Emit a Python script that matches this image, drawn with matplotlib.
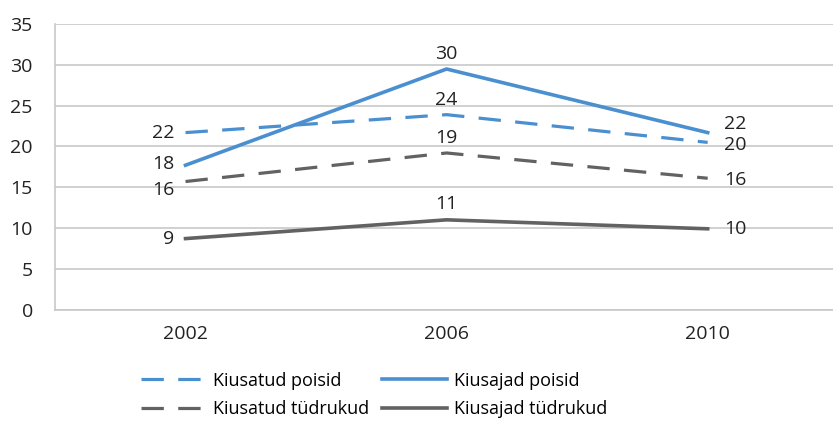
import matplotlib.pyplot as plt

# andmed
aastad = ['2002', '2006', '2010']
kiusatud_poisid = [21.7, 23.9, 20.5]
kiusajad_poisid = [17.7, 29.5, 21.7]
kiusatud_tudrukud = [15.7, 19.2, 16.1]
kiusajad_tudrukud = [8.7, 11.0, 9.9]

sinine = '#4a8fd0'
hall = '#626262'

plt.rcParams['font.family'] = ['Open Sans', 'DejaVu Sans']

fig = plt.figure(figsize=(8.33, 4.24), dpi=100)
ax = fig.add_axes([0.066, 0.27, 0.934, 0.673])

x = range(len(aastad))
ax.plot(x, kiusatud_poisid, color=sinine, lw=2.3, dashes=(7, 4.5), label='Kiusatud poisid')
ax.plot(x, kiusatud_tudrukud, color=hall, lw=2.3, dashes=(7, 4.5), label='Kiusatud tüdrukud')
ax.plot(x, kiusajad_poisid, color=sinine, lw=2.6, label='Kiusajad poisid')
ax.plot(x, kiusajad_tudrukud, color=hall, lw=2.6, label='Kiusajad tüdrukud')

# väärtuste sildid: vasakul, üleval, paremal
nihked = {
    0: [(-8, 0, 'right', 'center'), (0, 4, 'center', 'bottom'), (12, -2, 'left', 'center')],
    1: [(-8, -6, 'right', 'center'), (0, 4, 'center', 'bottom'), (12, -1, 'left', 'center')],
    2: [(-8, 1, 'right', 'center'), (0, 4, 'center', 'bottom'), (12, 6, 'left', 'center')],
    3: [(-8, 0, 'right', 'center'), (0, 5, 'center', 'bottom'), (12, 0, 'left', 'center')],
}
seeriad = [kiusatud_poisid, kiusatud_tudrukud, kiusajad_poisid, kiusajad_tudrukud]
for i, s in enumerate(seeriad):
    for j, v in enumerate(s):
        dx, dy, ha, va = nihked[i][j]
        ax.annotate(str(round(v)), (j, v), xytext=(dx, dy), textcoords='offset points',
                    ha=ha, va=va, fontsize=14, color='#222222')

ax.set_xlim(-0.5, 2.48)
ax.set_ylim(0, 35)
ax.set_yticks(range(0, 36, 5))
ax.set_xticks(list(x))
ax.set_xticklabels(aastad)
ax.tick_params(axis='both', length=0, labelsize=14, colors='#222222')
ax.tick_params(axis='x', pad=11)
ax.tick_params(axis='y', pad=16)
ax.grid(axis='y', color='#c8c8c8', lw=1.2)
ax.set_axisbelow(True)
for k in ['top', 'right']:
    ax.spines[k].set_visible(False)
ax.spines['left'].set_color('#c8c8c8')
ax.spines['bottom'].set_color('#c8c8c8')
ax.spines['left'].set_linewidth(1.2)
ax.spines['bottom'].set_linewidth(1.2)

fig.legend(loc='lower left', bbox_to_anchor=(0.15, -0.025), ncol=2, frameon=False,
           fontsize=13, handlelength=3.6, columnspacing=0.7, labelspacing=0.6,
           handletextpad=0.4)

fig.savefig('out.png', dpi=100)
